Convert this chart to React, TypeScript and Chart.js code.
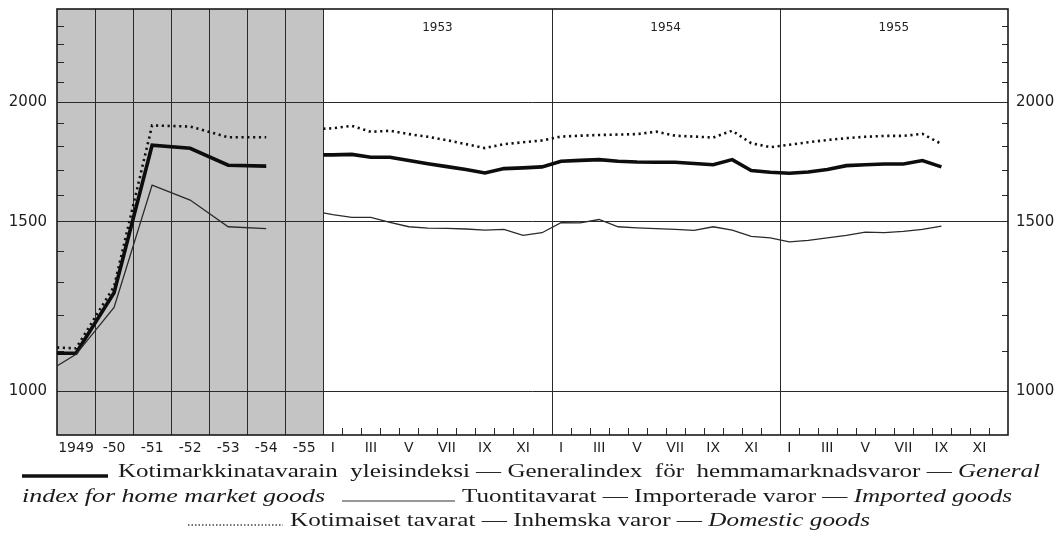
import React, { useEffect, useRef } from "react";
import { Chart, registerables } from "chart.js";

Chart.register(...registerables);

// ---- categories / tick labels ----
const annualLabels = ["1949", "-50", "-51", "-52", "-53", "-54", "-55"];
const monthLabels = ["I", "III", "V", "VII", "IX", "XI"];
const monthYears = ["1953", "1954", "1955"];
const yLabelValues = [1000, 1500, 2000];

// ---- annual values 1949..1954 (left, shaded part) ----
const generalAnnual = [1095, 1266, 1803, 1790, 1719, 1715];
const importedAnnual = [1092, 1222, 1639, 1581, 1483, 1476];
const domesticAnnual = [1108, 1285, 1891, 1886, 1838, 1838];
// value where each line begins at the left edge
const generalEdge = 1095;
const importedEdge = 1062;
const domesticEdge = 1110;

// ---- monthly values (right part) ----
const generalStart = 1762;
const general1953 = [1762, 1764, 1752, 1752, 1738, 1725, 1713, 1701, 1687, 1705, 1708, 1712];
const general1954 = [1735, 1739, 1742, 1735, 1732, 1731, 1731, 1726, 1721, 1742, 1697, 1690];
const general1955 = [1686, 1691, 1701, 1717, 1721, 1724, 1724, 1738, 1712];

const importedStart = 1533;
const imported1953 = [1527, 1517, 1517, 1499, 1483, 1478, 1477, 1475, 1471, 1474, 1453, 1462];
const imported1954 = [1498, 1497, 1509, 1483, 1479, 1476, 1474, 1470, 1483, 1471, 1449, 1444];
const imported1955 = [1430, 1435, 1444, 1453, 1464, 1462, 1467, 1474, 1485];

const domesticStart = 1876;
const domestic1953 = [1878, 1889, 1862, 1867, 1852, 1840, 1825, 1808, 1791, 1808, 1816, 1824];
const domestic1954 = [1841, 1845, 1848, 1850, 1852, 1863, 1845, 1841, 1837, 1867, 1812, 1795];
const domestic1955 = [1805, 1816, 1826, 1834, 1840, 1844, 1844, 1853, 1809];

// x-axis units: each annual column = 2 units, each month = 1 unit
const ANNUAL_COLS = annualLabels.length; // 7
const MONTH_START = ANNUAL_COLS * 2; // 14
const X_MAX = MONTH_START + 12 * monthYears.length; // 50

function buildSeries(edge: number, annual: number[], start: number, months: number[]) {
  const pts: { x: number; y: number | null }[] = [];
  pts.push({ x: 0, y: edge });
  annual.forEach((v, i) => pts.push({ x: 1 + 2 * i, y: v }));
  pts.push({ x: MONTH_START - 1, y: null });
  pts.push({ x: MONTH_START, y: start });
  months.forEach((v, i) => pts.push({ x: MONTH_START + 0.5 + i, y: v }));
  return pts;
}

const xTicks: { value: number; label: string }[] = [];
annualLabels.forEach((l, i) => xTicks.push({ value: 1 + 2 * i, label: l }));
monthYears.forEach((_, yi) => {
  monthLabels.forEach((l, k) => xTicks.push({ value: MONTH_START + 12 * yi + 2 * k + 0.5, label: l }));
});

const SANS = '"DejaVu Sans", sans-serif';
const SERIF = '"Liberation Serif", "Times New Roman", serif';

type Run = { text: string; italic?: boolean };

function drawRuns(ctx: CanvasRenderingContext2D, runs: Run[], x0: number, x1: number, yc: number, size: number) {
  let total = 0;
  const widths = runs.map((r) => {
    ctx.font = `${r.italic ? "italic " : ""}${size}px ${SERIF}`;
    const w = ctx.measureText(r.text).width;
    total += w;
    return w;
  });
  const sx = (x1 - x0) / total;
  ctx.save();
  ctx.translate(x0, yc);
  ctx.scale(sx, 1);
  ctx.fillStyle = "#1a1a1a";
  ctx.textBaseline = "middle";
  ctx.textAlign = "left";
  let x = 0;
  runs.forEach((r, i) => {
    ctx.font = `${r.italic ? "italic " : ""}${size}px ${SERIF}`;
    ctx.fillText(r.text, x, 0);
    x += widths[i];
  });
  ctx.restore();
}

const decorPlugin = {
  id: "decor",
  beforeDraw(chart: any) {
    const { ctx, chartArea, scales } = chart;
    const xs = scales.x;
    ctx.save();
    ctx.fillStyle = "#ffffff";
    ctx.fillRect(0, 0, chart.width, chart.height);
    const xEnd = xs.getPixelForValue(MONTH_START);
    ctx.fillStyle = "#c4c4c4";
    ctx.fillRect(chartArea.left, chartArea.top, xEnd - chartArea.left, chartArea.bottom - chartArea.top);
    ctx.restore();
  },
  beforeDatasetsDraw(chart: any) {
    const { ctx, chartArea, scales } = chart;
    const xs = scales.x;
    const ys = scales.y;
    const { left, right, top, bottom } = chartArea;
    ctx.save();
    ctx.strokeStyle = "#2a2a2a";
    ctx.lineWidth = 1;
    // column lines in the annual part
    for (let c = 1; c <= ANNUAL_COLS; c++) {
      const px = Math.round(xs.getPixelForValue(2 * c)) + 0.5;
      ctx.beginPath();
      ctx.moveTo(px, top);
      ctx.lineTo(px, bottom);
      ctx.stroke();
    }
    // year boundaries
    for (let yi = 1; yi < monthYears.length; yi++) {
      const px = Math.round(xs.getPixelForValue(MONTH_START + 12 * yi)) + 0.5;
      ctx.beginPath();
      ctx.moveTo(px, top);
      ctx.lineTo(px, bottom);
      ctx.stroke();
    }
    // month ticks at the bottom
    for (let m = 1; m < 12 * monthYears.length; m++) {
      if (m % 12 === 0) continue;
      const px = Math.round(xs.getPixelForValue(MONTH_START + m)) + 0.5;
      ctx.beginPath();
      ctx.moveTo(px, bottom);
      ctx.lineTo(px, bottom - 7);
      ctx.stroke();
    }
    // minor value ticks on left & right borders
    for (let v = 1000; v <= 2400; v += 100) {
      if (yLabelValues.includes(v)) continue;
      const py = Math.round(ys.getPixelForValue(v)) + 0.5;
      ctx.beginPath();
      ctx.moveTo(left, py);
      ctx.lineTo(left + 7, py);
      ctx.moveTo(right, py);
      ctx.lineTo(right - 6, py);
      ctx.stroke();
    }
    // frame
    ctx.lineWidth = 1.6;
    ctx.strokeStyle = "#1a1a1a";
    ctx.strokeRect(left, top, right - left, bottom - top);
    // year labels at top
    ctx.fillStyle = "#222";
    ctx.font = `12px ${SANS}`;
    ctx.textAlign = "center";
    ctx.textBaseline = "middle";
    monthYears.forEach((y, yi) => {
      const cx = xs.getPixelForValue(MONTH_START + 12 * yi + 6);
      ctx.fillText(y, cx, top + 19);
    });
    ctx.restore();
  },
  afterDraw(chart: any) {
    const { ctx } = chart;
    ctx.save();
    const size = 19;
    const y1 = 472;
    const y2 = 497;
    const y3 = 521;
    // line 1
    ctx.strokeStyle = "#111";
    ctx.lineWidth = 3.5;
    ctx.beginPath();
    ctx.moveTo(22, y1 + 4);
    ctx.lineTo(108, y1 + 4);
    ctx.stroke();
    drawRuns(
      ctx,
      [
        { text: "Kotimarkkinatavarain  yleisindeksi — Generalindex  för  hemmamarknadsvaror — " },
        { text: "General", italic: true },
      ],
      118,
      1040,
      y1,
      size
    );
    // line 2
    drawRuns(ctx, [{ text: "index for home market goods", italic: true }], 22, 325, y2, size);
    ctx.lineWidth = 1.2;
    ctx.strokeStyle = "#333";
    ctx.beginPath();
    ctx.moveTo(342, y2 + 4);
    ctx.lineTo(455, y2 + 4);
    ctx.stroke();
    drawRuns(
      ctx,
      [{ text: "Tuontitavarat — Importerade varor — " }, { text: "Imported goods", italic: true }],
      462,
      1012,
      y2,
      size
    );
    // line 3
    ctx.lineWidth = 1.5;
    ctx.strokeStyle = "#444";
    ctx.setLineDash([1.5, 2]);
    ctx.beginPath();
    ctx.moveTo(188, y3 + 4);
    ctx.lineTo(283, y3 + 4);
    ctx.stroke();
    ctx.setLineDash([]);
    drawRuns(
      ctx,
      [{ text: "Kotimaiset tavarat — Inhemska varor — " }, { text: "Domestic goods", italic: true }],
      290,
      870,
      y3,
      size
    );
    ctx.restore();
  },
};

export default function App() {
  const ref = useRef<HTMLCanvasElement | null>(null);
  useEffect(() => {
    if (!ref.current) return;
    const yTicksFn = (s: any) => {
      s.ticks = yLabelValues.map((v) => ({ value: v }));
    };
    const chart = new Chart(ref.current, {
      type: "line",
      data: {
        datasets: [
          {
            label: "Kotimaiset tavarat",
            data: buildSeries(domesticEdge, domesticAnnual, domesticStart, [...domestic1953, ...domestic1954, ...domestic1955]),
            borderColor: "#111",
            borderWidth: 2.6,
            borderDash: [2.2, 3.6],
            pointRadius: 0,
            tension: 0,
          },
          {
            label: "Tuontitavarat",
            data: buildSeries(importedEdge, importedAnnual, importedStart, [...imported1953, ...imported1954, ...imported1955]),
            borderColor: "#2a2a2a",
            borderWidth: 1.3,
            pointRadius: 0,
            tension: 0,
          },
          {
            label: "Kotimarkkinatavarain yleisindeksi",
            data: buildSeries(generalEdge, generalAnnual, generalStart, [...general1953, ...general1954, ...general1955]),
            borderColor: "#0d0d0d",
            borderWidth: 3.6,
            pointRadius: 0,
            tension: 0,
          },
        ],
      },
      options: {
        responsive: false,
        animation: false,
        parsing: true,
        spanGaps: false,
        layout: { padding: { top: 9, left: 0, right: 0, bottom: 0 } },
        plugins: { legend: { display: false }, tooltip: { enabled: false } },
        scales: {
          x: {
            type: "linear",
            min: 0,
            max: X_MAX,
            grid: { display: false, drawTicks: false },
            border: { display: false },
            afterBuildTicks: (s: any) => {
              s.ticks = xTicks.map((t) => ({ value: t.value }));
            },
            ticks: {
              autoSkip: false,
              maxRotation: 0,
              minRotation: 0,
              padding: 5,
              color: "#1e1e1e",
              font: { family: SANS, size: 14 },
              callback: (v: any) => {
                const t = xTicks.find((q) => Math.abs(q.value - Number(v)) < 1e-6);
                return t ? t.label : "";
              },
            },
            afterFit: (s: any) => {
              s.height = 106;
            },
          },
          y: {
            type: "logarithmic",
            position: "left",
            min: 900,
            max: 2500,
            afterBuildTicks: yTicksFn,
            grid: { color: "#2a2a2a", lineWidth: 1, drawTicks: false },
            border: { display: false },
            ticks: {
              padding: 10,
              color: "#1e1e1e",
              font: { family: SANS, size: 15 },
              callback: (v: any) => String(v),
            },
            afterFit: (s: any) => {
              s.width = 57;
              s.paddingTop = 0;
              s.paddingBottom = 0;
            },
          },
          y2: {
            type: "logarithmic",
            position: "right",
            min: 900,
            max: 2500,
            afterBuildTicks: yTicksFn,
            grid: { display: false, drawTicks: false },
            border: { display: false },
            ticks: {
              padding: 8,
              color: "#1e1e1e",
              font: { family: SANS, size: 15 },
              callback: (v: any) => String(v),
            },
            afterFit: (s: any) => {
              s.width = 52;
              s.paddingTop = 0;
              s.paddingBottom = 0;
            },
          },
        },
      } as any,
      plugins: [decorPlugin],
    });
    return () => chart.destroy();
  }, []);
  return (
    <div style={{ position: "fixed", left: 0, top: 0, width: 1060, height: 541, background: "#fff" }}>
      <canvas ref={ref} width={1060} height={541} style={{ display: "block", width: 1060, height: 541 }} />
    </div>
  );
}
